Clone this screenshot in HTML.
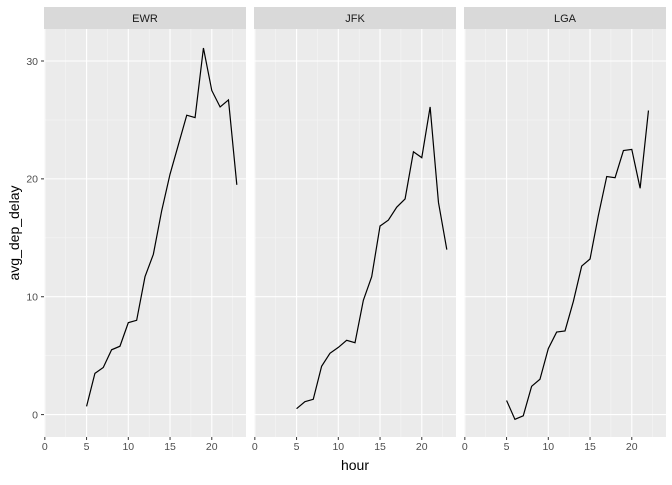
<!DOCTYPE html>
<html><head><meta charset="utf-8"><style>body{margin:0;background:#fff}svg{font-family:"Liberation Sans",sans-serif}</style></head>
<body>
<svg id="chart" width="672" height="480" xmlns="http://www.w3.org/2000/svg"></svg>
<script>
const facets = ["EWR","JFK","LGA"];
const hours = [5,6,7,8,9,10,11,12,13,14,15,16,17,18,19,20,21,22,23];
const ewrDelay = [0.7,3.5,4.0,5.5,5.8,7.8,8.0,11.7,13.6,17.3,20.4,22.9,25.4,25.2,31.1,27.5,26.1,26.7,19.5];
const jfkDelay = [0.5,1.1,1.3,4.1,5.2,5.7,6.3,6.1,9.7,11.7,16.0,16.5,17.6,18.3,22.3,21.8,26.1,18.0,14.0];
const lgaDelay = [1.2,-0.4,-0.1,2.4,3.0,5.6,7.0,7.1,9.6,12.6,13.2,16.9,20.2,20.1,22.4,22.5,19.2,25.8];
const xTicks = [0,5,10,15,20];
const yTicks = [0,10,20,30];
const series = [ewrDelay, jfkDelay, lgaDelay];

const svg = document.getElementById('chart');
const NS = 'http://www.w3.org/2000/svg';
function mk(tag, attrs, parent){const e=document.createElementNS(NS,tag);for(const k in attrs)e.setAttribute(k,attrs[k]);(parent||svg).appendChild(e);return e;}
const panelW=202, gap=8, left0=44, panelTop=29, panelBottom=437;
const xMin=-0.1, xMax=24.1;
const yScale = v => 414.6 - v*(414.6-61)/30;
facets.forEach((f,i)=>{
  const L = left0 + i*(panelW+gap);
  const xs = h => L + (h-xMin)/(xMax-xMin)*panelW;
  const g = mk('g',{});
  
  
  const bg = mk('rect',{x:L,y:panelTop,width:panelW,height:panelBottom-panelTop,fill:'#ebebeb'},g);
  
  
  const strip = mk('rect',{x:L,y:7,width:panelW,height:22,fill:'#d9d9d9'},g);
  
  
  const st = mk('text',{x:L+panelW/2,y:22,'text-anchor':'middle','font-size':'11',fill:'#1a1a1a'},g);
  st.textContent=f;
  
  
  for(let m=2.5;m<24;m+=5) mk('line',{x1:xs(m),x2:xs(m),y1:panelTop,y2:panelBottom,stroke:'#f5f5f5','stroke-width':0.6},g);
  for(let m=-5;m<=35;m+=10){const yy=yScale(m); if(yy>panelTop&&yy<panelBottom) mk('line',{x1:L,x2:L+panelW,y1:yy,y2:yy,stroke:'#f5f5f5','stroke-width':0.6},g);}
  xTicks.forEach(t=>{
    mk('line',{x1:xs(t),x2:xs(t),y1:panelTop,y2:panelBottom,stroke:'#fff','stroke-width':1.1},g);
    mk('line',{x1:xs(t),x2:xs(t),y1:panelBottom,y2:panelBottom+3,stroke:'#333','stroke-width':1},g);
    const tl=mk('text',{x:xs(t),y:panelBottom+13,'text-anchor':'middle','font-size':'10.5',fill:'#4d4d4d'},g);
    tl.textContent=t;
    
    
  });
  yTicks.forEach(t=>mk('line',{x1:L,x2:L+panelW,y1:yScale(t),y2:yScale(t),stroke:'#fff','stroke-width':1.1},g));
  const d = series[i].map((v,k)=>(k?'L':'M')+xs(hours[k]).toFixed(2)+','+yScale(v).toFixed(2)).join('');
  const p = mk('path',{d:d,fill:'none',stroke:'#000','stroke-width':1.2},g);
  
  
});
yTicks.forEach(t=>{
  mk('line',{x1:41,x2:44,y1:yScale(t),y2:yScale(t),stroke:'#333','stroke-width':1});
  const tl=mk('text',{x:38,y:yScale(t)+3.8,'text-anchor':'end','font-size':'10.5',fill:'#4d4d4d'});
  tl.textContent=t;
  
  
});
const xt=mk('text',{x:355,y:470,'text-anchor':'middle','font-size':'14',fill:'#000'});
xt.textContent='hour';


const yt=mk('text',{x:0,y:0,'text-anchor':'middle','font-size':'14',fill:'#000',transform:'translate(19,233) rotate(-90)'});
yt.textContent='avg_dep_delay';


</script>
</body></html>
